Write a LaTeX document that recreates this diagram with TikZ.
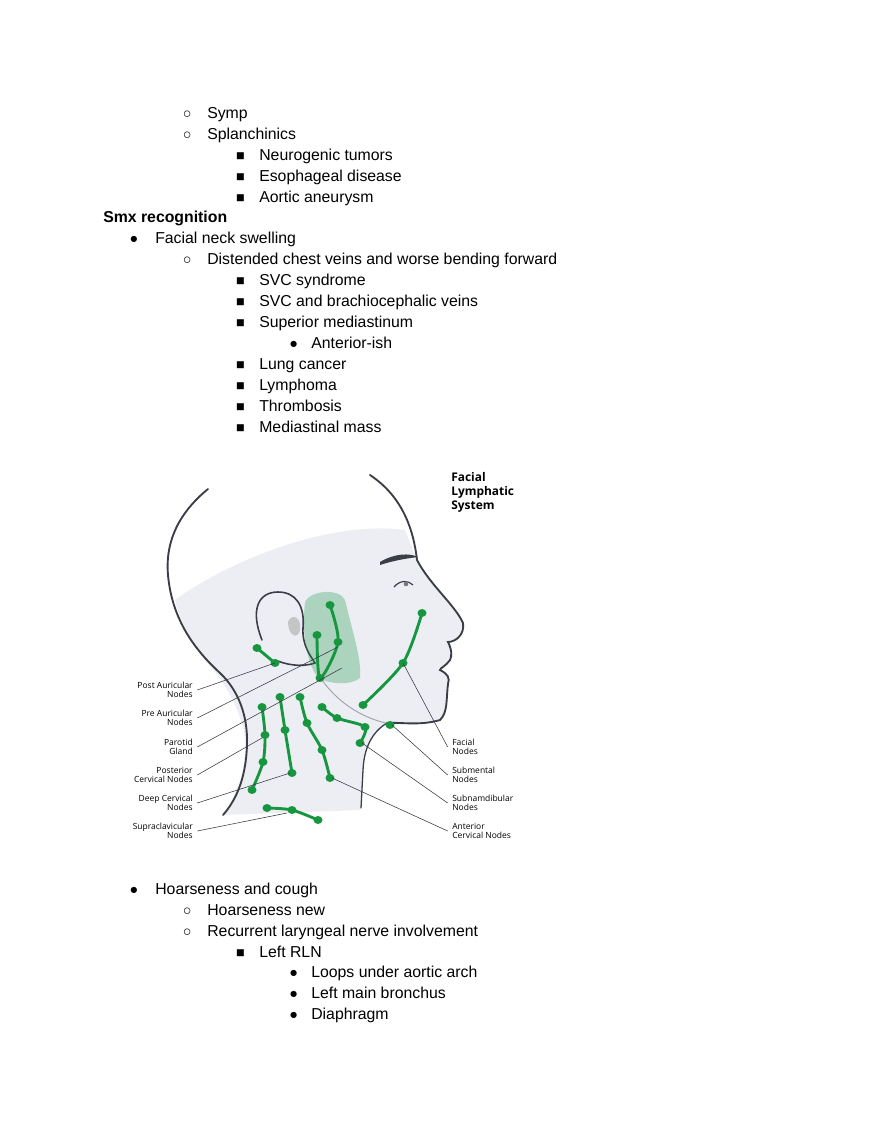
\documentclass[tikz,border=0pt]{standalone}
\usepackage{fontspec}
\setmainfont{Liberation Sans}
\newfontfamily\labelfont{Open Sans}
\usetikzlibrary{positioning}
\definecolor{nodegreen}{RGB}{22,150,62}
\definecolor{skin}{RGB}{236,238,244}
\definecolor{outline}{RGB}{60,62,70}

\tikzset{
  item/.style={anchor=base west, inner sep=0pt, font=\fontsize{11}{13}\selectfont},
  bul/.style={anchor=base, inner sep=0pt, font=\fontsize{10}{12}\selectfont},
  lbl/.style={inner sep=0pt, align=right, anchor=east, font=\labelfont\fontsize{5.9}{6.5}\selectfont},
  rlbl/.style={inner sep=0pt, align=left, anchor=west, font=\labelfont\fontsize{5.9}{6.5}\selectfont},
  leader/.style={draw=outline, line width=0.4pt},
  contour/.style={draw=outline, line width=1.3pt, line cap=round},
  chain/.style={draw=nodegreen, line width=2pt, line cap=round},
  lymph/.style={fill=nodegreen, draw=none}
}

\begin{document}
\begin{tikzpicture}[x=0.6955pt, y=-0.6955pt]
\useasboundingbox (0,0) rectangle (880,1139);

% outline text
\foreach \y/\lv/\txt [count=\i] in {
  113/2/Symp, 134/2/Splanchinics, 155/3/Neurogenic tumors, 176/3/Esophageal disease,
  197/3/Aortic aneurysm, 238/1/Facial neck swelling,
  259/2/Distended chest veins and worse bending forward, 280/3/SVC syndrome,
  301/3/SVC and brachiocephalic veins, 322/3/Superior mediastinum, 343/4/Anterior-ish,
  364/3/Lung cancer, 385/3/Lymphoma, 406/3/Thrombosis, 427/3/Mediastinal mass,
  889/1/Hoarseness and cough, 910/2/Hoarseness new,
  931/2/Recurrent laryngeal nerve involvement, 952/3/Left RLN,
  972/4/Loops under aortic arch, 993/4/Left main bronchus, 1014/4/Diaphragm} {
  \node[bul] (m\i) at ({134+53.2*(\lv-1)}, \y+5) {\ifcase\lv\or ●\or ○\or ■\or ●\fi};
  \node[item] (t\i) at ({155+52*(\lv-1)}, \y+5) {\txt};
}
\node[item, font=\fontsize{11}{13}\selectfont\bfseries] (smx) at (103,222) {Smx recognition};

% head and neck
\fill[skin] (175,600) .. controls (230,560) and (330,520) .. (405,530)
  -- (417,560)
  .. controls (430,585) and (455,605) .. (463,623)
  .. controls (465,635) and (455,642) .. (448,642)
  .. controls (452,650) and (452,656) .. (450,660)
  .. controls (446,666) and (440,668) .. (440,670)
  .. controls (448,674) and (450,678) .. (448,684)
  .. controls (446,700) and (448,712) .. (440,720)
  .. controls (420,726) and (400,722) .. (387,723)
  .. controls (372,732) and (366,745) .. (364,760)
  -- (360,810) -- (223,815)
  .. controls (240,790) and (250,760) .. (243,727)
  .. controls (235,700) and (225,685) .. (215,672)
  .. controls (195,650) and (180,625) .. (175,600);
\draw[contour] (208,489) .. controls (180,512) and (165,540) .. (168,575)
  .. controls (172,620) and (195,650) .. (220,673)
  .. controls (238,690) and (248,715) .. (247,745)
  .. controls (246,775) and (238,798) .. (223,815);
\draw[contour] (370,475) .. controls (400,495) and (413,525) .. (417,560)
  .. controls (430,585) and (455,605) .. (463,623)
  .. controls (465,635) and (455,642) .. (448,642)
  .. controls (452,650) and (452,656) .. (450,660)
  .. controls (446,666) and (440,668) .. (440,670)
  .. controls (448,674) and (450,678) .. (448,684)
  .. controls (446,700) and (448,712) .. (440,720)
  .. controls (420,726) and (400,722) .. (387,723);
\draw[contour, line width=0.9pt] (387,723) .. controls (372,732) and (364,748) .. (363,770)
  -- (361,808);
\draw[draw=outline!50, line width=0.6pt] (320,677) .. controls (335,700) and (360,718) .. (390,724);
% ear
\draw[contour, line width=1.1pt] (262,640) .. controls (250,610) and (258,592) .. (278,592)
  .. controls (296,592) and (305,606) .. (303,628)
  .. controls (302,645) and (310,655) .. (315,663)
  .. controls (300,668) and (285,664) .. (275,660);
\fill[outline!30] (288,622) .. controls (292,612) and (302,618) .. (300,630)
  .. controls (298,640) and (288,636) .. (288,622);
% eye and brow
\fill[outline] (380,562) .. controls (395,553) and (410,553) .. (418,557)
  .. controls (410,558) and (395,560) .. (380,565) -- cycle;
\draw[outline, line width=0.8pt] (394,587) .. controls (400,580) and (408,580) .. (413,585);
\fill[outline!70] (406,584) circle (2.3);

% parotid gland
\fill[nodegreen, opacity=0.3] (305,602) .. controls (310,590) and (340,588) .. (345,600)
  .. controls (352,630) and (362,660) .. (360,678)
  .. controls (350,686) and (330,684) .. (318,678)
  .. controls (305,660) and (302,630) .. (305,602);

% lymph nodes
\foreach \chainpts in {
  {(257,648) (275,663)},
  {(330,605) (338,642) (320,678) (317,635)},
  {(422,613) (403,663) (363,705)},
  {(262,707) (265,735) (263,762) (252,790)},
  {(280,697) (285,730) (292,773)},
  {(300,697) (307,723) (322,750) (330,778)},
  {(322,707) (337,718) (365,727) (360,743)},
  {(267,808) (292,810) (318,820)}} {
  \draw[chain] plot[smooth] coordinates {\chainpts};
}
\foreach \px/\py in {257/648,275/663,330/605,338/642,320/678,317/635,
  422/613,403/663,363/705,262/707,265/735,263/762,252/790,
  280/697,285/730,292/773,300/697,307/723,322/750,330/778,
  322/707,337/718,365/727,360/743,390/725,267/808,292/810,318/820} {
  \fill[lymph] (\px,\py) ellipse [x radius=4.5, y radius=4];
}

% labels
\node[rlbl, font=\labelfont\bfseries\fontsize{8.3}{9.7}\selectfont] (title) at (451,492) {Facial\\Lymphatic\\System};
\node[lbl] (postaur) at (193,690) {Post Auricular\\Nodes};
\node[lbl] (preaur) at (193,718) {Pre Auricular\\Nodes};
\node[lbl] (parotid) at (193,747) {Parotid\\Gland};
\node[lbl] (postcerv) at (193,775) {Posterior\\Cervical Nodes};
\node[lbl] (deepcerv) at (193,803) {Deep Cervical\\Nodes};
\node[lbl] (supra) at (193,831) {Supraclavicular\\Nodes};
\node[rlbl] (facial) at (452,747) {Facial\\Nodes};
\node[rlbl] (submental) at (452,775) {Submental\\Nodes};
\node[rlbl] (submand) at (452,803) {Subnamdibular\\Nodes};
\node[rlbl] (antcerv) at (452,831) {Anterior\\Cervical Nodes};

\coordinate (pPost) at (275,663);
\coordinate (pPre) at (338,647);
\coordinate (pPar) at (342,668);
\coordinate (pPostC) at (262,738);
\coordinate (pDeep) at (290,773);
\coordinate (pSupra) at (287,813);
\coordinate (pFacial) at (403,663);
\coordinate (pSubment) at (392,725);
\coordinate (pSubmand) at (362,743);
\coordinate (pAnt) at (332,778);
\draw[leader] ([xshift=3pt]postaur.east) -- (pPost);
\draw[leader] ([xshift=3pt]preaur.east) -- (pPre);
\draw[leader] ([xshift=3pt]parotid.east) -- (pPar);
\draw[leader] ([xshift=3pt]postcerv.east) -- (pPostC);
\draw[leader] ([xshift=3pt]deepcerv.east) -- (pDeep);
\draw[leader] ([xshift=3pt]supra.east) -- (pSupra);
\draw[leader] ([xshift=-3pt]facial.west) -- (pFacial);
\draw[leader] ([xshift=-3pt]submental.west) -- (pSubment);
\draw[leader] ([xshift=-3pt]submand.west) -- (pSubmand);
\draw[leader] ([xshift=-3pt]antcerv.west) -- (pAnt);
\end{tikzpicture}
\end{document}
